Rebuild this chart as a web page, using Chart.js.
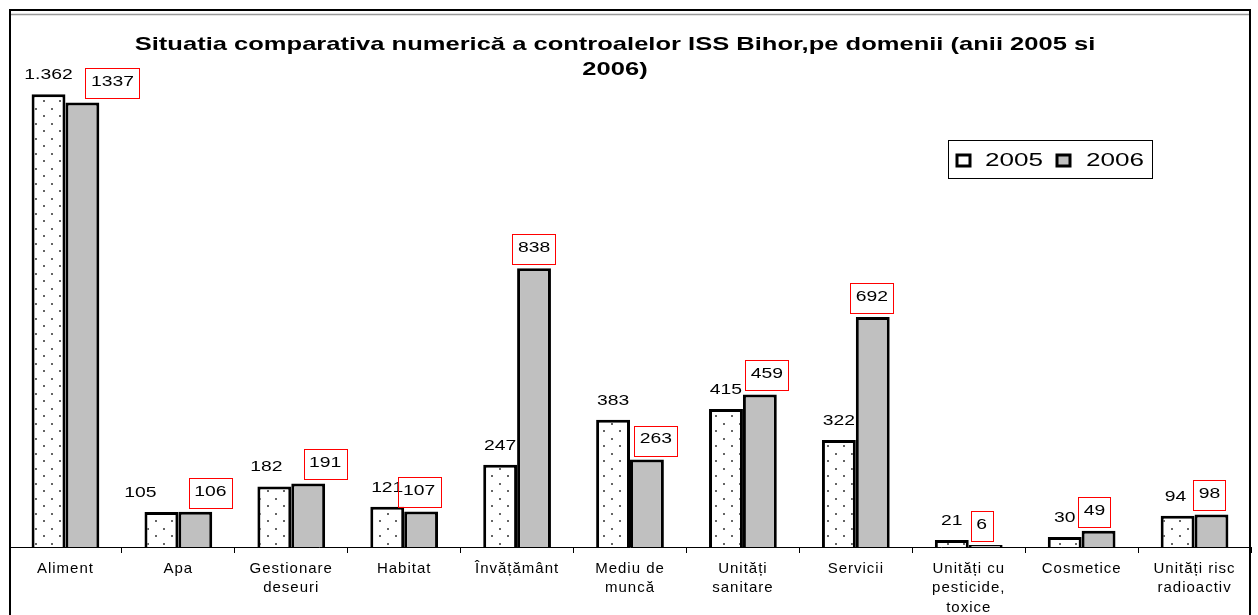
<!DOCTYPE html>
<html>
<head>
<meta charset="utf-8">
<script src="https://cdn.jsdelivr.net/npm/chart.js@4.4.1/dist/chart.umd.min.js"></script>
<style>
  html, body { margin: 0; padding: 0; background: #fff; }
  #wrap { position: relative; width: 1258px; height: 615px; }
</style>
</head>
<body>
<div id="wrap"><canvas id="myChart" width="1258" height="615"></canvas></div>
<script>
const categories = ['Aliment', 'Apa', ['Gestionare', 'deseuri'], 'Habitat', 'Învățământ', ['Mediu de', 'muncă'],
  ['Unități', 'sanitare'], 'Servicii', ['Unități cu', 'pesticide,', 'toxice'], 'Cosmetice', ['Unități risc', 'radioactiv']];
const years = ['2005', '2006'];
const values2005 = [1362, 105, 182, 121, 247, 383, 415, 322, 21, 30, 94];
const values2006 = [1337, 106, 191, 107, 838, 263, 459, 692, 6, 49, 98];
const titleLines = ['Situatia comparativa numerică a controalelor ISS Bihor,pe domenii (anii 2005 si', '2006)'];

// sideways shifts of the value labels, like in the original document
const nudge2005 = [0, -21, -8, 0, 0, 0, 0, 0, 0, 0, -2];
const nudge2006 = [30, 15, 17, -2, 0, 9, 7, -1, -4, -4, -2];

const FONT = 'Arial, "Liberation Sans", sans-serif';
const STRETCH = 1.38; // the original picture is widened, text looks stretched

function fmt(v) {
  // 1362 -> 1.362
  return v >= 1000 ? Math.floor(v / 1000) + '.' + String(v % 1000).padStart(3, '0') : String(v);
}

function wideText(c, text, x, y, sx) {
  c.save();
  c.translate(x, y);
  c.scale(sx, 1);
  c.fillText(text, 0, 0);
  c.restore();
}

const canvas = document.getElementById('myChart');
const ctx = canvas.getContext('2d');

// white with small grey dots (2005)
function makeDots() {
  const c = document.createElement('canvas');
  c.width = 16; c.height = 15;
  const g = c.getContext('2d');
  g.fillStyle = '#fff';
  g.fillRect(0, 0, 16, 15);
  g.fillStyle = '#666';
  g.fillRect(3, 3, 2, 2);
  g.fillRect(11, 10, 2, 2);
  return ctx.createPattern(c, 'repeat');
}
const dots = makeDots();

const extras = {
  id: 'extras',
  beforeDraw(chart) {
    const c = chart.ctx;
    c.save();
    c.fillStyle = '#fff';
    c.fillRect(0, 0, chart.width, chart.height);
    c.restore();
    c.letterSpacing = '1px'; // axis labels
  },
  afterDatasetsDraw(chart) {
    const c = chart.ctx;
    const m0 = chart.getDatasetMeta(0).data;
    const m1 = chart.getDatasetMeta(1).data;
    c.save();
    c.letterSpacing = '0px';
    c.font = '14px ' + FONT;
    c.textAlign = 'center';
    c.textBaseline = 'middle';
    c.fillStyle = '#000';
    values2005.forEach((v, i) => {
      const b = m0[i];
      wideText(c, fmt(v), b.x + nudge2005[i], b.y - 19, STRETCH);
    });
    values2006.forEach((v, i) => {
      const b = m1[i];
      const t = String(v);
      const w = c.measureText(t).width * STRETCH + 11;
      const h = 30;
      const cx = b.x + nudge2006[i];
      const bottom = b.y - 4;
      c.strokeStyle = '#ff0000';
      c.lineWidth = 1;
      c.strokeRect(Math.round(cx - w / 2) + 0.5, Math.round(bottom - h) + 0.5, Math.round(w), h);
      c.fillStyle = '#000';
      wideText(c, t, cx, bottom - h / 2 - 1, STRETCH);
    });
    c.restore();
  },
  afterDraw(chart) {
    const c = chart.ctx;
    c.save();
    c.letterSpacing = '0px';
    // outer frame
    c.strokeStyle = '#000';
    c.lineWidth = 2;
    c.strokeRect(10, 10, 1240, 620);
    c.strokeStyle = '#999';
    c.lineWidth = 1.5;
    c.beginPath();
    c.moveTo(11, 14.5);
    c.lineTo(1249, 14.5);
    c.stroke();

    // title
    c.fillStyle = '#000';
    c.font = 'bold 18.5px ' + FONT;
    c.textAlign = 'center';
    c.textBaseline = 'middle';
    titleLines.forEach((t, i) => wideText(c, t, 615, 45 + i * 25, STRETCH));

    // legend
    c.lineWidth = 1;
    c.strokeStyle = '#000';
    c.strokeRect(948.5, 140.5, 204, 38);
    c.font = '18px ' + FONT;
    c.textAlign = 'left';
    const items = [[957, 985], [1057, 1086]];
    chart.data.datasets.forEach((ds, i) => {
      const [sx, tx] = items[i];
      c.fillStyle = i === 0 ? '#fff' : ds.backgroundColor;
      c.fillRect(sx, 155, 13, 11);
      c.lineWidth = 3;
      c.strokeRect(sx, 155, 13, 11);
      c.fillStyle = '#000';
      wideText(c, ds.label, tx, 161.5, 1.45);
    });
    c.restore();
  }
};

new Chart(ctx, {
  type: 'bar',
  data: {
    labels: categories,
    datasets: [
      { label: years[0], data: values2005, backgroundColor: dots, borderColor: '#000', borderWidth: 3 },
      { label: years[1], data: values2006, backgroundColor: '#c0c0c0', borderColor: '#000', borderWidth: 3 }
    ]
  },
  options: {
    responsive: false,
    animation: false,
    layout: { padding: { left: 9, right: 7, top: 15, bottom: 0 } },
    datasets: { bar: { categoryPercentage: 0.6, barPercentage: 1 } },
    plugins: {
      legend: { display: false },
      title: { display: false },
      tooltip: { enabled: false }
    },
    scales: {
      x: {
        grid: { display: true, drawOnChartArea: false, drawTicks: true, tickLength: 6, color: '#000', offset: true },
        border: { display: true, color: '#000', width: 1 },
        ticks: {
          color: '#000',
          font: { family: FONT, size: 15, lineHeight: 1.3 },
          padding: 6,
          autoSkip: false,
          maxRotation: 0
        },
        afterFit(s) { s.height = 68; }
      },
      y: { display: false, min: 0, max: 1600 }
    }
  },
  plugins: [extras]
});
</script>
</body>
</html>
